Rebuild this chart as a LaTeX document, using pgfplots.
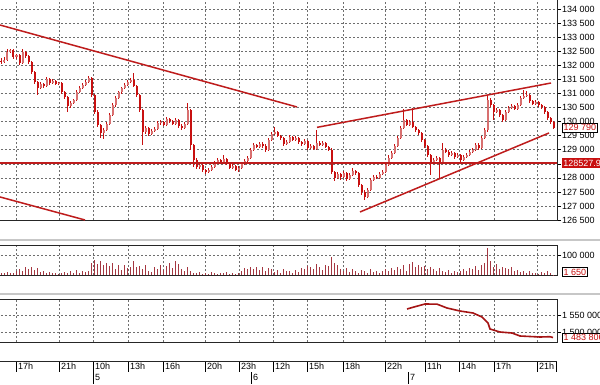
\documentclass[border=0pt]{standalone}
\usepackage{pgfplots}
\pgfplotsset{compat=1.18}
\usepackage{pgfplotstable}
\usepackage{fontspec}
\setmainfont{Liberation Sans}
\definecolor{cdn}{RGB}{200,16,16}
\definecolor{cup}{RGB}{216,112,112}
\definecolor{trend}{RGB}{190,28,28}
\definecolor{gridc}{RGB}{110,110,110}
\definecolor{vol}{RGB}{165,55,65}
\definecolor{lne}{RGB}{165,20,20}
\newcommand\lf{\fontsize{9}{10}\selectfont}

\pgfplotstableread{
x o h l c v
1.5 132160 132250 132060 132127 12000
4.5 132127 132290 132090 132198 9000
7.5 132198 132590 132160 132482 15000
10.5 132482 132600 132430 132553 8000
13.5 132553 132590 132250 132304 10000
16.5 132304 132420 132230 132375 18000
19.5 132375 132410 132010 132091 30000
22.5 132091 132600 132050 132482 22000
25.5 132482 132520 132280 132340 38000
28.5 132340 132380 132060 132127 28000
31.5 132127 132160 131700 131771 42000
34.5 131771 131820 131340 131416 25000
37.5 131416 131450 130950 131203 35000
40.5 131203 131400 131150 131345 14000
43.5 131345 131390 131200 131274 20000
46.5 131274 131600 131240 131522 9000
49.5 131522 131560 131300 131380 16000
52.5 131380 131520 131340 131451 8000
55.5 131451 131480 131290 131345 12000
58.5 131345 131430 131300 131380 7000
61.5 131380 131420 130980 131060 10000
64.5 131060 131100 130800 130883 15000
67.5 130883 130920 130350 130563 8000
70.5 130563 130720 130500 130669 20000
73.5 130669 130820 130620 130776 12000
76.5 130776 131110 130740 131060 24000
79.5 131060 131260 131010 131203 9000
82.5 131203 131360 131150 131309 18000
85.5 131309 131480 131270 131416 14000
88.5 131416 131630 131380 131558 22000
91.5 131558 131590 130880 130954 60000
94.5 130954 131000 130280 130350 75000
97.5 130350 130400 129810 129888 55000
100.5 129888 129920 129420 129603 68000
103.5 129603 129780 129400 129710 50000
106.5 129710 129980 129660 129923 62000
109.5 129923 130300 129880 130243 45000
112.5 130243 130660 130200 130598 58000
115.5 130598 130900 130540 130847 30000
118.5 130847 131110 130800 131060 52000
121.5 131060 131250 131000 131203 25000
124.5 131203 131380 131150 131309 48000
127.5 131309 131480 131260 131416 35000
130.5 131416 131560 131380 131487 40000
133.5 131487 131730 131220 131274 70000
136.5 131274 131310 130880 130954 38000
139.5 130954 130990 130340 130421 45000
142.5 130421 130460 129180 129639 28000
145.5 129639 129850 129560 129781 52000
148.5 129781 129820 129490 129568 20000
151.5 129568 129730 129520 129674 15000
154.5 129674 129800 129620 129745 42000
157.5 129745 130030 129700 129959 30000
160.5 129959 130060 129900 129994 50000
163.5 129994 130040 129830 129888 25000
166.5 129888 130160 129850 130101 47000
169.5 130101 130140 129970 130030 58000
172.5 130030 130070 129870 129923 35000
175.5 129923 130130 129880 130065 72000
178.5 130065 130100 129790 129852 55000
181.5 129852 129900 129720 129781 30000
184.5 129781 129980 129740 129923 18000
187.5 129923 130670 129880 130421 40000
190.5 130421 130450 128999 129177 22000
193.5 129177 129220 128400 128643 12000
196.5 128643 128700 128320 128395 8000
199.5 128395 128540 128330 128466 15000
202.5 128466 128500 128220 128288 6000
205.5 128288 128330 128150 128217 12000
208.5 128217 128350 128180 128288 7000
211.5 128288 128450 128250 128395 14000
214.5 128395 128590 128350 128537 9000
217.5 128537 128700 128500 128643 6000
220.5 128643 128690 128520 128572 11000
223.5 128572 128820 128530 128679 8000
226.5 128679 128720 128450 128501 13000
229.5 128501 128540 128300 128359 7000
232.5 128359 128480 128310 128430 10000
235.5 128430 128470 128230 128288 6000
238.5 128288 128410 128200 128359 12000
241.5 128359 128560 128320 128501 20000
244.5 128501 128660 128460 128608 35000
247.5 128608 128770 128570 128715 28000
250.5 128715 129060 128680 128999 40000
253.5 128999 129250 128950 129177 32000
256.5 129177 129220 129050 129106 38000
259.5 129106 129280 129060 129212 25000
262.5 129212 129260 129080 129141 42000
265.5 129141 129190 128930 128999 18000
268.5 128999 129420 128960 129354 36000
271.5 129354 129640 129300 129568 30000
274.5 129568 129820 129520 129639 15000
277.5 129639 129680 129440 129497 24000
280.5 129497 129540 129360 129426 12000
283.5 129426 129460 129150 129212 30000
286.5 129212 129340 129170 129283 18000
289.5 129283 129530 129240 129461 22000
292.5 129461 129500 129300 129354 10000
295.5 129354 129480 129310 129426 26000
298.5 129426 129460 129220 129283 16000
301.5 129283 129320 129150 129212 34000
304.5 129212 129380 129170 129319 28000
307.5 129319 129350 128990 129071 45000
310.5 129071 129200 129020 129141 38000
313.5 129141 129180 128980 129035 30000
316.5 129035 129710 128990 129248 55000
319.5 129248 129300 129120 129177 40000
322.5 129177 129310 129130 129248 25000
325.5 129248 129290 129050 129106 50000
328.5 129106 129150 128940 128999 45000
331.5 128999 129050 128150 128217 90000
334.5 128217 128260 127900 128004 60000
337.5 128004 128200 127950 128146 48000
340.5 128146 128190 127930 128040 30000
343.5 128040 128240 128000 128181 22000
346.5 128181 128220 127880 127968 35000
349.5 127968 128180 127920 128111 15000
352.5 128111 128360 128060 128253 28000
355.5 128253 128290 128120 128181 20000
358.5 128181 128220 127680 127755 12000
361.5 127755 127800 127400 127506 25000
364.5 127506 127560 127220 127328 18000
367.5 127328 127640 127290 127577 10000
370.5 127577 127990 127540 127933 30000
373.5 127933 128100 127880 128040 15000
376.5 128040 128090 127950 128004 22000
379.5 128004 128200 127960 128146 8000
382.5 128146 128270 128100 128217 18000
385.5 128217 128530 128180 128466 28000
388.5 128466 128800 128430 128715 20000
391.5 128715 128950 128670 128893 35000
394.5 128893 129200 128850 129141 25000
397.5 129141 129490 129090 129426 40000
400.5 129426 129850 129380 129781 30000
403.5 129781 130450 129740 130065 48000
406.5 130065 130110 129830 129888 22000
409.5 129888 130050 129850 129994 55000
412.5 129994 130490 129760 129817 65000
415.5 129817 129860 129650 129710 42000
418.5 129710 129750 129540 129603 50000
421.5 129603 129640 129290 129354 38000
424.5 129354 129400 129080 129141 45000
427.5 129141 129180 128750 128822 30000
430.5 128822 128860 128110 128572 40000
433.5 128572 128700 128500 128643 28000
436.5 128643 128770 128600 128715 18000
439.5 128715 128760 128000 128572 35000
442.5 128572 129250 128530 128999 22000
445.5 128999 129050 128870 128928 15000
448.5 128928 128980 128760 128822 25000
451.5 128822 128950 128780 128893 12000
454.5 128893 128930 128690 128750 20000
457.5 128750 128880 128700 128822 14000
460.5 128822 128860 128580 128643 18000
463.5 128643 128800 128600 128750 28000
466.5 128750 128880 128700 128822 22000
469.5 128822 128990 128780 128928 35000
472.5 128928 129060 128880 128999 30000
475.5 128999 129240 128950 129177 45000
478.5 129177 129250 129000 129071 25000
481.5 129071 129490 129030 129426 50000
484.5 129426 129780 129380 129710 60000
487.5 129710 130950 129650 130776 135000
490.5 130776 130830 130540 130598 70000
493.5 130598 130640 130060 130350 40000
496.5 130350 130480 130300 130421 55000
499.5 130421 130460 130180 130243 30000
502.5 130243 130280 129990 130065 42000
505.5 130065 130410 130020 130350 35000
508.5 130350 130560 130300 130492 28000
511.5 130492 130620 130440 130563 38000
514.5 130563 130600 130400 130456 20000
517.5 130456 130650 130410 130598 25000
520.5 130598 130900 130560 130847 15000
523.5 130847 131130 130800 130918 22000
526.5 130918 131100 130870 130954 10000
529.5 130954 130990 130680 130740 18000
532.5 130740 130780 130580 130634 8000
535.5 130634 130760 130590 130705 12000
538.5 130705 130750 130540 130598 6000
541.5 130598 130640 130470 130527 15000
544.5 130527 130570 130290 130350 8000
547.5 130350 130390 130060 130136 20000
550.5 130136 130180 129930 129994 10000
553.5 129994 130030 129740 129790 1650
}\candles

\pgfplotsset{
  panel/.style={
    scale only axis, width=560pt, xmin=-3, xmax=557,
    axis line style={line width=0.9pt, black!85},
    xtick={16,59,93,128,163,205,239,273,307,343,385,425,459,494,537},
    xticklabels={}, major x tick style={draw=none},
    grid=major,
    major grid style={dash pattern=on 2pt off 2pt, gridc, line width=0.6pt},
    ytick pos=right, yticklabel pos=right,
    tick align=outside, major tick length=4pt,
    major y tick style={black, line width=0.6pt},
    yticklabel style={font=\lf, anchor=west, inner sep=1pt},
    /pgf/number format/assume math mode=true,
    /pgf/number format/fixed,
    /pgf/number format/precision=0,
    /pgf/number format/1000 sep={\ },
    scaled y ticks=false,
    clip=false,
  },
  timeax/.style={
    scale only axis, width=560pt, xmin=-3, xmax=557, ymin=0, ymax=1,
    hide y axis, axis x line*=top,
    axis line style={line width=0.9pt, black!85},
    tick align=inside,
    major x tick style={black, line width=0.6pt},
    xticklabel style={font=\lf, anchor=north west, inner sep=2pt},
  },
  cbar/.style={draw=none, no markers, forget plot,
    error bars/y dir=both, error bars/y explicit, error bars/error mark=none},
}

\begin{document}
\begin{tikzpicture}[x=1pt,y=1pt]
\clip (0,0) rectangle (600,-384);
\fill[white] (0,0) rectangle (600,-384);
\draw[black!22, line width=1.6pt] (0,-240) -- (600,-240);
\draw[black!22, line width=1.6pt] (0,-294) -- (600,-294);

% ---------------- main price panel
\begin{axis}[panel, at={(-3pt,-220pt)}, anchor=south west, height=223pt,
  ymin=126500, ymax=134438,
  ytick={126500,127000,127500,128000,128500,129000,129500,130000,130500,131000,131500,132000,132500,133000,133500,134000}]
  % wicks
  \addplot[cbar, error bars/error bar style={line width=0.7pt, color=cdn}]
    table[x=x, y expr={(\thisrow{h}+\thisrow{l})/2},
          y error expr={(\thisrow{h}-\thisrow{l})/2}] {\candles};
  % bodies up
  \addplot[cbar, error bars/error bar style={line width=2pt, color=cup},
    restrict expr to domain={\thisrow{c}-\thisrow{o}}{0:1000000}]
    table[x=x, y expr={(\thisrow{o}+\thisrow{c})/2},
          y error expr={max(abs(\thisrow{c}-\thisrow{o})/2,18)}] {\candles};
  % bodies down
  \addplot[cbar, error bars/error bar style={line width=2pt, color=cdn},
    restrict expr to domain={\thisrow{c}-\thisrow{o}}{-1000000:-0.001}]
    table[x=x, y expr={(\thisrow{o}+\thisrow{c})/2},
          y error expr={max(abs(\thisrow{c}-\thisrow{o})/2,18)}] {\candles};
  % trend lines
  \addplot[trend, line width=1.5pt] coordinates {(0,133441) (297,130523)};
  \addplot[trend, line width=1.5pt] coordinates {(0,127320) (85,126501)};
  \addplot[trend, line width=1.5pt] coordinates {(317,129798) (551,131377)};
  \addplot[trend, line width=1.5pt] coordinates {(360,126786) (549,129598)};
  \addplot[trend, line width=1.5pt] coordinates {(-3,128527.9) (557,128527.9)};
  \coordinate (lastp) at (axis cs:557,129790);
  \coordinate (hlp) at (axis cs:557,128527.9);
\end{axis}
\node[draw=black, fill=white, text=cdn, inner sep=1.2pt, anchor=west, font=\lf, line width=0.6pt, xshift=5pt] at (lastp) {129 790};
\node[draw=cdn, fill=cdn, text=white, inner sep=1.2pt, anchor=west, font=\lf, xshift=5pt] at (hlp) {128527.9};

% ---------------- volume panel
\begin{axis}[panel, at={(-3pt,-275pt)}, anchor=south west, height=30pt,
  ymin=0, ymax=150000, ytick={100000}]
  \addplot[ycomb, vol, line width=0.8pt, mark=none] table[x=x, y=v] {\candles};
  \coordinate (lastv) at (axis cs:557,15000);
\end{axis}
\node[draw=black, fill=white, text=cdn, inner sep=1.2pt, anchor=west, font=\lf, line width=0.6pt, xshift=5pt] at (lastv) {1 650};

% ---------------- third panel
\begin{axis}[panel, at={(-3pt,-342pt)}, anchor=south west, height=43pt,
  ymin=1470600, ymax=1597060, ytick={1500000,1550000}]
  \addplot[lne, line width=1.6pt, mark=none] coordinates {
    (407,1567650) (415,1574400) (425,1582350) (437,1582000) (447,1570600)
    (460,1561760) (473,1555900) (482,1544100) (488,1526500) (490,1508800)
    (500,1500000) (512,1497060) (520,1488240) (540,1485300) (550,1486180)
    (553,1483806)};
  \coordinate (last3) at (axis cs:557,1483806);
\end{axis}
\node[draw=black, fill=white, text=cdn, inner sep=1.2pt, anchor=west, font=\lf, line width=0.6pt, xshift=5pt] at (last3) {1 483 806};

% ---------------- time axis
\begin{axis}[timeax, at={(-3pt,-372pt)}, anchor=south west, height=11pt,
  major tick length=11pt,
  xtick={16,59,93,128,163,205,239,273,307,343,385,425,459,494,537,556},
  xticklabels={17h,21h,10h,13h,16h,20h,23h,12h,15h,18h,22h,11h,14h,17h,21h,{}}]
  \addplot[draw=none] coordinates {(0,0)};
\end{axis}
\begin{axis}[timeax, at={(-3pt,-384pt)}, anchor=south west, height=12pt,
  axis line style={draw=none}, major tick length=12pt,
  xtick={93,251,408}, xticklabels={5,6,7}]
  \addplot[draw=none] coordinates {(0,0)};
\end{axis}
\end{tikzpicture}
\end{document}
